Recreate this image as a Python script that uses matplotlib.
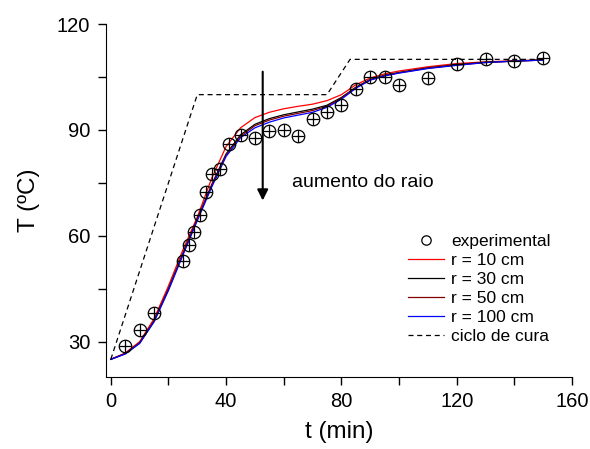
import matplotlib
matplotlib.use('Agg')
import matplotlib.pyplot as plt

plt.rcParams['font.family'] = ['Liberation Sans', 'DejaVu Sans']

# experimental points
t_exp = [5, 10, 15, 25, 27, 29, 31, 33, 35, 38, 41, 45, 50, 55, 60, 65, 70,
         75, 80, 85, 90, 95, 100, 110, 120, 130, 140, 150]
T_exp = [28.8, 33.3, 38.0, 53.0, 57.4, 61.0, 66.0, 72.4, 77.6, 79.0, 86.0,
         88.5, 87.7, 89.6, 90.0, 88.4, 93.0, 95.1, 97.0, 101.5, 104.9, 104.9,
         102.7, 104.6, 108.7, 110.0, 109.6, 110.3]

# simulated curves for each radius
t_sim = [0, 5, 10, 15, 20, 25, 30, 35, 40, 45, 50, 55, 60, 65, 70, 75, 80,
         85, 90, 95, 100, 110, 120, 130, 140, 150]
T_r10 = [25.0, 26.8, 30.0, 36.5, 45.8, 56.0, 65.3, 76.3, 85.3, 90.6, 93.5,
         95.0, 96.0, 96.7, 97.3, 98.3, 100.0, 102.8, 104.7, 105.9, 106.7,
         107.9, 108.8, 109.3, 109.6, 109.9]
T_r30 = [25.0, 26.6, 29.7, 35.9, 45.0, 55.0, 64.8, 74.5, 83.2, 88.6, 91.6,
         93.2, 94.3, 95.1, 95.9, 97.0, 99.2, 102.1, 104.3, 105.5, 106.3,
         107.6, 108.5, 109.2, 109.5, 109.8]
T_r50 = [25.0, 26.6, 29.6, 35.8, 44.8, 54.8, 64.6, 74.2, 82.9, 88.2, 91.2,
         92.8, 93.9, 94.7, 95.5, 96.7, 99.0, 102.0, 104.2, 105.4, 106.2,
         107.5, 108.4, 109.1, 109.5, 109.8]
T_r100 = [25.0, 26.5, 29.5, 35.6, 44.5, 54.5, 64.3, 73.8, 82.5, 87.8, 90.6,
          92.2, 93.4, 94.2, 95.0, 96.4, 98.7, 101.8, 104.1, 105.3, 106.1,
          107.4, 108.3, 109.1, 109.5, 109.8]

# cure cycle
t_cure = [0, 30, 75, 83, 150]
T_cure = [25, 100, 100, 110, 110]

fig = plt.figure(figsize=(5.9, 4.49), dpi=100)
ax = fig.add_axes([0.179, 0.1604, 0.7905, 0.786])

ax.plot(t_exp, T_exp, 'o', mfc='none', mec='black', ms=9, mew=0.9,
        label='experimental', zorder=5)
ax.plot(t_exp, T_exp, '+', color='black', ms=9, mew=0.9, zorder=5)
ax.plot(t_sim, T_r10, color='red', lw=0.9, label='r = 10 cm')
ax.plot(t_sim, T_r30, color='black', lw=0.9, label='r = 30 cm')
ax.plot(t_sim, T_r50, color='#800000', lw=0.9, label='r = 50 cm')
ax.plot(t_sim, T_r100, color='blue', lw=0.9, label='r = 100 cm')
ax.plot(t_cure, T_cure, color='black', lw=0.9, ls=(0, (4, 3)),
        label='ciclo de cura')

ax.annotate('', xy=(52.7, 70), xytext=(52.7, 106.5),
            arrowprops=dict(arrowstyle='-|>', color='black', lw=1.5,
                            mutation_scale=16, shrinkA=0, shrinkB=0))
ax.text(63, 75, 'aumento do raio', fontsize=14, va='center', ha='left')

ax.set_xlim(-1.8, 160)
ax.set_ylim(20, 120)
ax.set_xticks([0, 40, 80, 120, 160])
ax.set_xticks([20, 60, 100, 140], minor=True)
ax.set_yticks([30, 60, 90, 120])
ax.set_yticks([45, 75, 105], minor=True)
ax.tick_params(which='both', direction='out', length=6, width=1, labelsize=14.5)
ax.tick_params(axis='x', pad=5)
ax.tick_params(axis='y', pad=5)
ax.spines['top'].set_visible(False)
ax.spines['right'].set_visible(False)

ax.set_xlabel('t (min)', fontsize=17.5, labelpad=7)
ax.set_ylabel('T (ºC)', fontsize=17.5, labelpad=12)

ax.legend(loc='upper left', bbox_to_anchor=(0.648, 0.405), frameon=False,
          fontsize=12.5, handlelength=2.1, handletextpad=0.4,
          labelspacing=0.22, markerscale=0.75, borderaxespad=0,
          borderpad=0)

fig.savefig('out.png', dpi=100)
